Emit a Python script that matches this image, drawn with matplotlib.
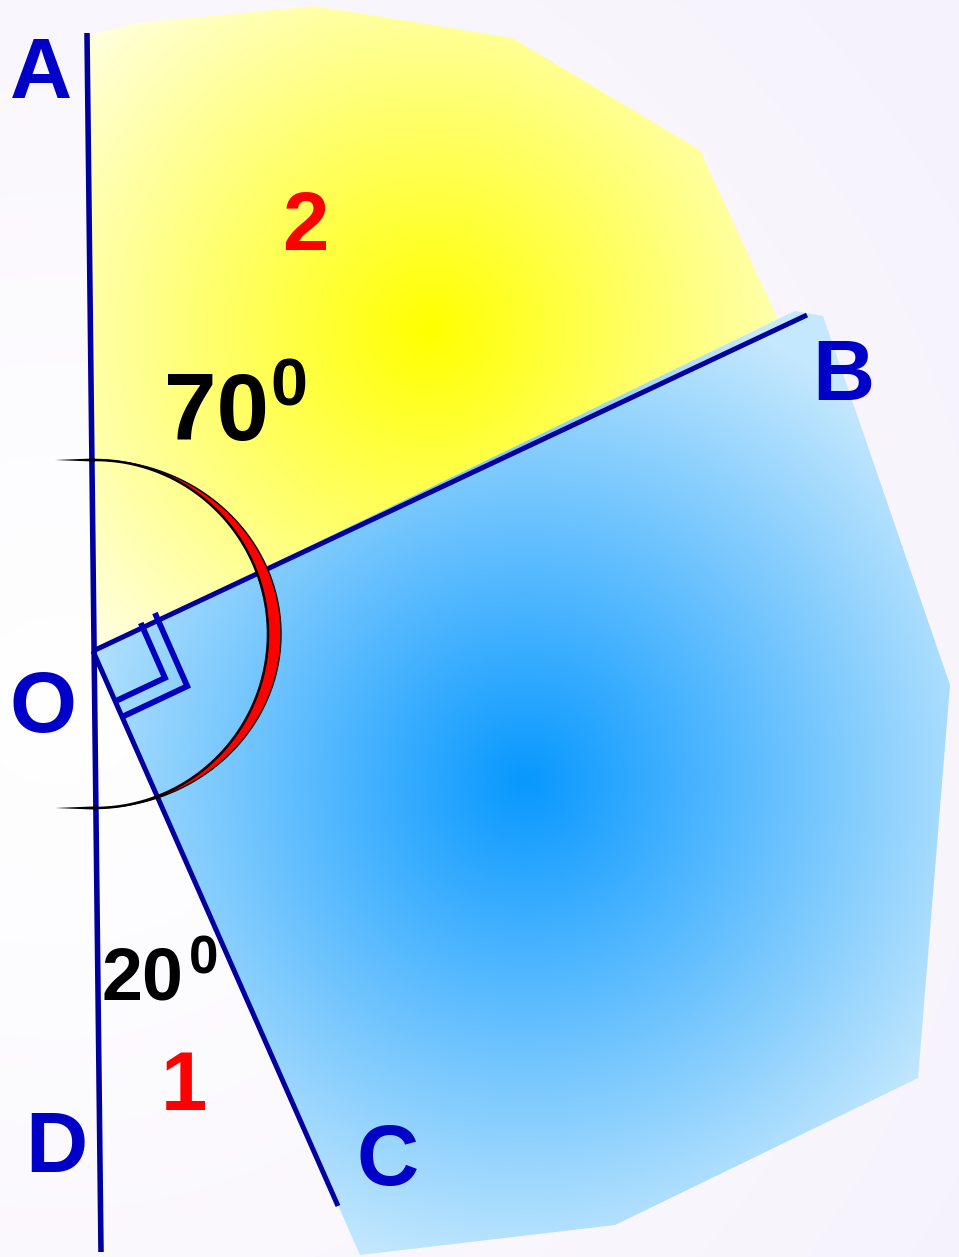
import numpy as np
import matplotlib
matplotlib.use("Agg")
from matplotlib import pyplot as plt
from matplotlib.patches import Polygon

W, H = 959, 1257

# geometry of the figure (pixel coords, y down)
point_O = (93, 651)
point_A_end = (87, 33)
point_D_end = (101, 1252)
point_B_end = (807, 315)
point_C_end = (338, 1206)

yellow_region = [(88, 35), (138, 23), (315, 6), (512, 38), (700, 150), (786, 337), (93, 655)]
blue_region = [(93, 651), (795, 311), (823, 316), (950, 685), (918, 1078),
               (615, 1225), (360, 1255), (93, 651)]

labels = ['A', 'B', 'O', 'D', 'C']
label_pos = [(41, 98), (843, 400), (43, 732), (56, 1172), (388, 1185)]
region_names = ['2', '1']
region_pos = [(305, 250), (184, 1110)]
angle_texts = ['70', '20']
angle_pos = [(164, 440), (101, 1000)]
angle_sizes = [68, 53]
degree_pos = [(270, 405), (189, 973)]
degree_sizes = [48, 38]

line_col = '#00009e'
label_col = '#0000c8'


def radial(center, radius, c0, c1):
    yy, xx = np.mgrid[0:H, 0:W]
    t = np.sqrt((xx - center[0]) ** 2 + (yy - center[1]) ** 2) / radius
    t = np.clip(t, 0, 1)[..., None]
    c0 = np.array(c0) / 255.0
    c1 = np.array(c1) / 255.0
    return c0 * (1 - t) + c1 * t


fig = plt.figure(figsize=(W / 100, H / 100), dpi=100)
ax = fig.add_axes([0, 0, 1, 1])
ax.set_xlim(0, W)
ax.set_ylim(H, 0)
ax.axis('off')

# background
bg = radial((60, 700), 1100, (255, 255, 255), (246, 242, 252))
ax.imshow(bg, extent=(0, W, H, 0), zorder=0)

# yellow region with radial fill
ypoly = Polygon(yellow_region, closed=True, facecolor='none', edgecolor='none')
ax.add_patch(ypoly)
img = ax.imshow(radial((430, 330), 470, (255, 255, 0), (255, 255, 232)),
                extent=(0, W, H, 0), zorder=1)
img.set_clip_path(ypoly)

# blue region
bpoly = Polygon(blue_region, closed=True, facecolor='none', edgecolor='none')
ax.add_patch(bpoly)
img2 = ax.imshow(radial((525, 780), 500, (8, 152, 255), (196, 232, 253)),
                 extent=(0, W, H, 0), zorder=2)
img2.set_clip_path(bpoly)

# lines
ax.plot([point_A_end[0], point_D_end[0]], [point_A_end[1], point_D_end[1]],
        color=line_col, lw=4, solid_capstyle='butt', zorder=5)
ax.plot([point_O[0], point_B_end[0]], [point_O[1], point_B_end[1]],
        color=line_col, lw=3.6, solid_capstyle='butt', zorder=5)
ax.plot([point_O[0], point_C_end[0]], [point_O[1], point_C_end[1]],
        color=line_col, lw=3.6, solid_capstyle='butt', zorder=5)

# right angle marks
O = np.array(point_O, float)
u = np.array(point_B_end) - O
u = u / np.linalg.norm(u)
v = np.array(point_C_end) - O
v = v / np.linalg.norm(v)
for s, ext in [(55, 5), (72, 8)]:
    p1 = O + s * u - ext * v
    c = O + s * u + s * v
    p2 = O + s * v
    ax.plot([p1[0], c[0], p2[0]], [p1[1], c[1], p2[1]], color='#0000c0',
            lw=4.2, solid_joinstyle='miter', solid_capstyle='butt', zorder=6)

# arc crescent
cx, cy, ry = 95, 634, 174
th = np.linspace(-np.pi / 2, np.pi / 2, 200)
inner = np.column_stack([cx + 173 * np.cos(th), cy + ry * np.sin(th)])
outer = np.column_stack([cx + 186 * np.cos(th), cy + ry * np.sin(th)])
cres = np.vstack([outer, inner[::-1]])
ax.add_patch(Polygon(cres, closed=True, facecolor='#ff0000', edgecolor='none', zorder=7))
ax.plot(inner[:, 0], inner[:, 1], color='black', lw=1.8, zorder=8)
ax.plot(outer[:, 0], outer[:, 1], color='black', lw=1.0, zorder=8)
for yy in (cy - ry, cy + ry):
    ax.add_patch(Polygon([(55, yy), (cx, yy - 1.6), (cx, yy + 1.6)], closed=True,
                         facecolor='black', edgecolor='none', zorder=8))

# labels
for t, (x, y) in zip(labels, label_pos):
    ax.text(x, y, t, color=label_col, fontsize=62, fontweight='bold',
            family='Liberation Sans', ha='center', va='baseline', zorder=9)
for t, (x, y) in zip(region_names, region_pos):
    ax.text(x, y, t, color='#ff0000', fontsize=60, fontweight='bold',
            family='Liberation Sans', ha='center', va='baseline', zorder=9)
for t, (x, y), fs, (dx, dy), dfs in zip(angle_texts, angle_pos, angle_sizes,
                                         degree_pos, degree_sizes):
    ax.text(x, y, t, color='black', fontsize=fs, fontweight='bold',
            family='Liberation Sans', ha='left', va='baseline', zorder=9)
    ax.text(dx, dy, '0', color='black', fontsize=dfs, fontweight='bold',
            family='Liberation Sans', ha='left', va='baseline', zorder=9)

fig.savefig('out.png', dpi=100)
